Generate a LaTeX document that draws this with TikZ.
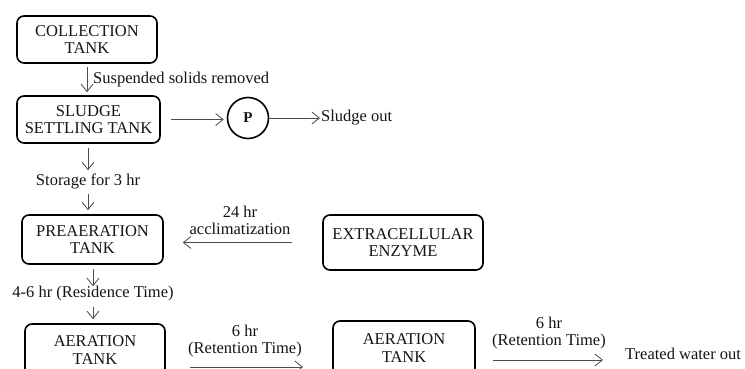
\documentclass[tikz,border=0pt]{standalone}
\usepackage{fontspec}
\setmainfont{Liberation Serif}
\usetikzlibrary{arrows.meta,calc}
\begin{document}
\begin{tikzpicture}[x=1pt,y=-1pt,
  every node/.style={font=\fontsize{16.5pt}{17.5pt}\selectfont, text=black!92},
  tank/.style={draw=black, line width=1.6pt, rounded corners=7pt, align=center, inner sep=0pt},
  lbl/.style={align=center, inner sep=0pt},
  arr/.style={draw=black!70, line width=0.8pt, -{Straight Barb[length=7.5pt,width=12pt,line width=0.8pt]}}
]
\path[clip] (0,0) rectangle (745,369);
\node[tank, minimum width=140pt, minimum height=47pt] (coll) at (87,39.5) {COLLECTION\\TANK};
\node[tank, minimum width=143pt, minimum height=47pt] (sludge) at (88.5,119.5) {SLUDGE\\SETTLING TANK};
\node[draw=black, line width=1.6pt, circle, minimum size=41pt, inner sep=0pt, font=\fontsize{15pt}{16pt}\selectfont\bfseries] (p) at (248,118) {P};
\node[lbl, anchor=west] (out) at (321,118) {Sludge out};
\node[lbl, anchor=west] (ss) at (93,80) {Suspended solids removed};
\node[lbl] (stor) at (88,181) {Storage for 3 hr};
\node[tank, minimum width=141pt, minimum height=49pt] (pre) at (92.5,239.5) {PREAERATION\\TANK};
\node[tank, minimum width=160pt, minimum height=55pt] (enz) at (403,242.5) {EXTRACELLULAR\\ENZYME};
\node[lbl] (accl) at (240,220.5) {24 hr\\acclimatization};
\node[lbl] (res) at (93,294) {4-6 hr (Residence Time)};
\node[tank, minimum width=140pt, minimum height=52pt] (aer1) at (95,350) {AERATION\\TANK};
\node[tank, minimum width=142pt, minimum height=54pt] (aer2) at (404,348) {AERATION\\TANK};
\node[lbl] (ret1) at (245,341) {6 hr\\(Retention Time)};
\node[lbl] (ret2) at (549,333) {6 hr\\(Retention Time)};
\node[lbl, anchor=west] (treat) at (625,354) {Treated water out};
\coordinate (a1) at (190,367);
\coordinate (a2) at (493,360);

\draw[arr, shorten <=3pt, shorten >=3pt] (coll.south) -- (coll.south |- sludge.north);
\draw[arr, shorten <=10pt, shorten >=3pt] (sludge.east) -- (sludge.east -| p.west);
\draw[arr, shorten >=1pt] (p.east) -- (out.west);
\draw[arr, shorten <=4pt, shorten >=3pt] (sludge.south -| stor.north) -- (stor.north);
\draw[arr, shorten <=5pt, shorten >=4pt] (stor.south) -- (stor.south |- pre.north);
\draw[arr, shorten <=30pt, shorten >=19pt] (enz.west) -- (enz.west -| pre.east);
\draw[arr, shorten <=4pt, shorten >=0pt] (pre.south -| res.north) -- (res.north);
\draw[arr, shorten <=5pt, shorten >=4pt] (res.south) -- (res.south |- aer1.north);
\draw[arr] (a1) -- ($(a1)+(113,0)$);
\draw[arr] (a2) -- ($(a2)+(110,0)$);
\end{tikzpicture}
\end{document}
